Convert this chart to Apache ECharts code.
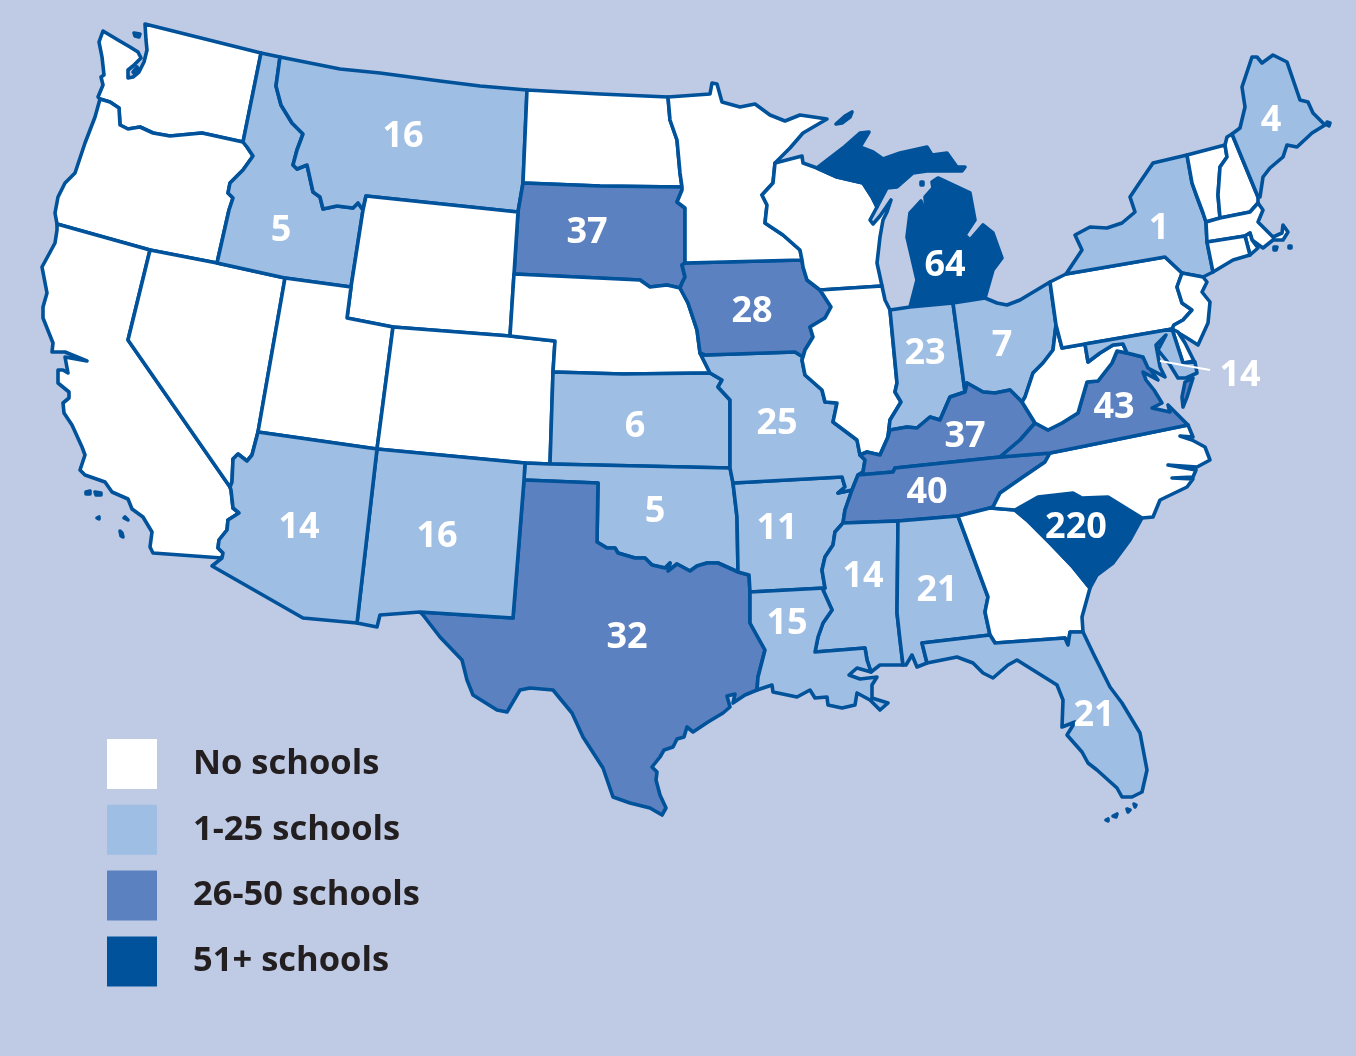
<!DOCTYPE html>
<html>
<head>
<meta charset="utf-8">
<title>Schools by state</title>
<script src="https://cdn.jsdelivr.net/npm/echarts@6/dist/echarts.min.js"></script>
<style>
  html, body { margin: 0; padding: 0; background: #bfcae4; }
  #main { width: 1356px; height: 1056px; }
</style>
</head>
<body>
<div id="main"></div>
<script>
// values
var stateNames = ['Montana', 'Idaho', 'South Dakota', 'Iowa', 'Michigan', 'Maine', 'New York', 'Indiana',
  'Ohio', 'Kansas', 'Missouri', 'Kentucky', 'Virginia', 'Tennessee', 'Arkansas', 'Oklahoma', 'New Mexico',
  'Arizona', 'Texas', 'Louisiana', 'Mississippi', 'Alabama', 'South Carolina', 'Florida', 'Maryland'];
var schoolCounts = [16, 5, 37, 28, 64, 4, 1, 23, 7, 6, 25, 37, 43, 40, 11, 5, 16, 14, 32, 15, 14, 21, 220, 21, 14];
var emptyStates = ['Washington', 'Oregon', 'California', 'Nevada', 'Utah', 'Wyoming', 'Colorado', 'North Dakota',
  'Nebraska', 'Minnesota', 'Wisconsin', 'Illinois', 'Georgia', 'North Carolina', 'West Virginia', 'Pennsylvania',
  'New Jersey', 'Delaware', 'Vermont', 'New Hampshire', 'Massachusetts', 'Rhode Island', 'Connecticut'];
var legendLabels = ['No schools', '1-25 schools', '26-50 schools', '51+ schools'];
var legendColors = ['#ffffff', '#9fbee4', '#5b81c0', '#00529b'];

// base map, traced in page pixels. Shared borders so neighbours line up
var borders = {
  wa_id: '261,53 243,142',
  wa_or: '243,142 202,133 170,136 153,133 140,127 128,129 120,125 119,108 110,102 100,99',
  or_id: '243,142 247,147 253,156 243,170 230,183 228,193 233,198 229,210 217,263',
  or_nv: '217,263 150,250',
  or_ca: '150,250 57,224',
  ca_az: '222,558 223,553 218,548 219,540 227,530 228,520 239,513 233,508 231,490 230,487',
  ca_nv: '230,487 128,340 150,250',
  nv_id: '217,263 285,278',
  nv_ut: '285,278 258,432',
  nv_az: '258,432 252,455 247,461 238,454 233,459 232,482 230,487',
  id_mt: '280,57 276,86 281,105 292,123 303,134 297,150 293,165 297,169 307,165 313,192 320,197 323,209 337,206 353,208 358,203 363,210',
  id_wy: '363,210 351,287',
  id_ut: '351,287 285,278',
  mt_nd: '527,90 523,183',
  mt_sd: '523,183 518,212',
  mt_wy: '518,212 366,196 363,210',
  nd_mn: '668,97 670,120 677,140 680,173 682,187',
  nd_sd: '682,187 600,186 523,183',
  sd_mn: '682,187 682,190 677,202 685,208 685,263',
  sd_ia: '685,263 682,265 685,277 682,283 680,288',
  sd_ne: '680,288 667,285 650,287 640,280 514,274',
  sd_wy: '514,274 518,212',
  wy_ne: '514,274 510,336',
  wy_co: '510,336 393,327',
  wy_ut: '393,327 347,318 351,287',
  ut_az: '258,432 377,449',
  ut_co: '377,449 393,327',
  co_ne: '510,336 555,341 553,372',
  co_ks: '553,372 550,464',
  co_ok: '550,464 525,463',
  co_nm: '525,463 377,449',
  ne_ia: '680,288 688,303 697,330 700,353',
  ne_mo: '700,353 710,373',
  ne_ks: '710,373 623,374 553,372',
  ks_mo: '710,373 722,380 718,387 730,400 730,468',
  ks_ok: '730,468 550,464',
  ok_nm: '525,463 524,480',
  ok_tx: '524,480 598,483 597,542 607,548 615,548 618,553 635,558 645,558 652,565 665,568 670,563 668,571 677,564 690,571 697,566 707,563 718,563 738,572',
  ok_ar: '738,572 737,517 733,483',
  ok_mo: '733,483 730,468',
  tx_ar: '738,572 749,575 750,592',
  tx_la: '750,592 750,623 765,650 758,677 757,690',
  tx_coast: '757,690 745,695 733,703 735,694 727,696 730,707 723,713 708,722 693,732 687,727 684,737 677,739 673,747 664,750 660,757 652,767 657,772 656,780 660,795 666,808 662,815 650,808 630,803 613,797 603,768 583,737 572,713 553,690 530,688 520,690 507,712 497,710 473,695 467,680 462,660 440,637 423,615 420,612',
  tx_nm: '420,612 513,618 524,480',
  nm_south: '420,612 380,615 377,627 357,623',
  az_nm: '357,623 377,449',
  az_south: '357,623 303,618 212,566 222,558',
  ar_la: '750,592 825,588',
  ar_ms: '825,588 822,570 825,557 833,545 835,532 843,523',
  ar_tn: '843,523 845,510 852,490',
  ar_mo: '852,490 838,493 845,487 842,477 733,483',
  ia_mo: '700,353 705,355 795,352 803,357',
  mo_il: '803,357 802,360 805,375 822,390 825,402 837,403 833,422 857,440 860,455',
  mo_ky: '860,455 865,460 863,472 858,475',
  mo_tn: '858,475 852,490',
  mn_ia: '685,263 802,260',
  ia_wi: '802,260 803,267 807,280 820,290',
  ia_il: '820,290 831,307 825,318 810,327 813,337 805,350 803,357',
  mn_wi: '775,163 773,183 762,195 767,205 765,223 783,235 800,250 802,260',
  wi_mi: '817,168 837,177 863,183 872,197 877,207',
  wi_il: '882,286 820,290',
  il_shore: '882,286 885,300 890,310',
  il_in: '890,310 897,383 895,392 901,402 890,420 888,437',
  il_ky: '888,437 880,455 867,452 860,455',
  mi_oh: '985,298 953,303',
  mi_in: '953,303 910,307',
  in_oh: '953,303 965,392',
  in_ky: '965,392 950,397 940,420 930,417 917,428 907,427 890,430 888,437',
  oh_pa: '1050,282 1056,325',
  oh_wv: '1056,325 1053,350 1043,363 1033,373 1025,397 1022,402',
  oh_ky: '1022,402 1010,390 995,393 983,392 967,383 965,392',
  ky_wv: '1022,402 1035,423',
  ky_va: '1035,423 1020,440 1000,457',
  ky_tn: '1000,457 895,468 893,472 858,475',
  tn_va: '1000,457 1050,453',
  tn_nc: '1050,453 1045,462 1023,477 1000,493 993,507 990,508',
  tn_ga: '990,508 958,516',
  tn_al: '958,516 898,521',
  tn_ms: '898,521 843,523',
  ms_al: '898,521 897,613 900,640 903,665',
  ms_la: '871,672 867,660 865,648 815,652 818,637 823,623 832,610 823,590 825,588',
  al_ga: '958,516 978,570 988,597 985,612 990,635',
  al_fl: '990,635 922,643 927,663',
  nc_ga: '990,508 1015,510',
  ga_sc: '1015,510 1027,520 1050,543 1073,567 1090,588',
  ga_fl: '1083,632 1070,632 1068,645 1065,638 995,643 990,635',
  sc_nc: '1015,510 1038,497 1073,493 1082,498 1108,497 1142,518',
  nc_va: '1188,425 1080,447 1050,453',
  va_md: '1143,357 1127,353',
  va_wv: '1127,353 1117,351 1112,363 1098,381 1087,382 1078,413 1062,423 1048,430 1035,423',
  wv_pa: '1056,325 1062,348 1085,344',
  wv_md: '1085,344 1088,362 1100,353 1113,345 1123,344 1127,353',
  md_pa: '1085,344 1172,329',
  md_de: '1172,329 1183,363',
  ny_pa: '1066,274 1165,257 1182,273',
  ny_nj: '1182,273 1203,277',
  pa_nj: '1182,273 1177,287 1182,303 1192,310 1183,320 1174,325 1172,329',
  ny_ct: '1213,272 1207,242',
  ny_ma: '1207,242 1206,222',
  ny_vt: '1206,222 1203,213 1197,197 1192,183 1187,155',
  vt_nh: '1225,145 1227,157 1220,167 1218,195 1220,218',
  vt_ma: '1220,218 1206,222',
  me_nh: '1232,134 1258,197',
  ma_nh: '1220,218 1250,212 1258,203',
  ma_ri: '1252,240 1250,233 1245,236',
  ma_ct: '1245,236 1207,242'
};

// each state: list of rings, a token is a point, a border name, or -name for reversed
var outlines = {
  Washington: ['145,24 261,53 wa_id wa_or 98,97 103,85 101,77 104,75 102,57 99,42 103,31 118,40 130,47 138,52 141,58 133,66 128,70 128,78 133,77 139,72 144,62 147,50 146,40',
    '134,33 140,34 139,37 135,36', '133,72 137,67 139,70 135,74'],
  Oregon: ['or_id or_nv or_ca 55,213 58,197 65,183 75,173 85,143 95,117 -wa_or'],
  California: ['57,224 57,230 55,243 42,267 47,293 43,307 43,318 53,343 52,352 65,352 87,361 65,357 68,373 63,370 58,370 58,383 69,392 69,398 63,403 64,413 72,425 82,447 85,455 80,470 85,475 105,482 112,492 128,499 132,509 143,517 152,532 150,547 153,553 ca_az ca_nv or_ca',
    '86,492 90,491 90,494 86,494', '95,492 101,493 101,495 96,495', '97,518 99,517 99,519', '125,517 128,520 127,521 124,518', '120,531 122,533 123,537 121,536'],
  Nevada: ['-or_nv nv_id nv_ut nv_az ca_nv'],
  Idaho: ['261,53 id_mt id_wy id_ut -nv_id -or_id -wa_id'],
  Montana: ['280,57 340,69 380,73 440,81 480,86 mt_nd mt_sd mt_wy -id_mt'],
  'North Dakota': ['527,90 600,94 nd_mn nd_sd -mt_nd'],
  'South Dakota': ['-nd_sd sd_mn sd_ia sd_ne sd_wy -mt_sd'],
  Wyoming: ['-mt_wy -sd_wy wy_ne wy_co wy_ut -id_wy'],
  Utah: ['nv_ut ut_az ut_co wy_ut id_ut'],
  Colorado: ['-wy_co co_ne co_ks co_ok co_nm ut_co'],
  Nebraska: ['-sd_ne ne_ia ne_mo ne_ks -co_ne -wy_ne'],
  Kansas: ['-ne_ks ks_mo ks_ok -co_ks'],
  Oklahoma: ['ks_ok co_ok ok_nm ok_tx ok_ar ok_mo'],
  Texas: ['ok_tx tx_ar tx_la tx_coast tx_nm'],
  'New Mexico': ['-co_nm ok_nm -tx_nm nm_south az_nm'],
  Arizona: ['ut_az -az_nm az_south ca_az -nv_az'],
  Arkansas: ['-ok_ar tx_ar ar_la ar_ms ar_tn ar_mo'],
  Missouri: ['ia_mo mo_il mo_ky mo_tn ar_mo ok_mo -ks_mo -ne_mo'],
  Iowa: ['mn_ia ia_wi ia_il -ia_mo -ne_ia -sd_ia'],
  Minnesota: ['668,97 710,94 712,83 717,84 722,102 740,107 755,104 770,115 785,121 800,115 827,119 803,133 790,148 mn_wi -mn_ia -sd_mn -nd_mn'],
  Wisconsin: ['775,163 802,156 803,163 wi_mi 870,220 873,224 880,216 889,203 891,200 887,212 883,220 880,237 877,263 wi_il -ia_wi -mn_wi'],
  Michigan: ['817,168 843,148 860,133 869,132 860,147 873,152 883,159 900,153 927,147 932,155 947,153 957,167 965,167 962,171 927,171 913,173 897,187 887,188 -wi_mi',
    '938,178 970,193 975,220 965,235 970,240 983,225 993,233 1002,258 993,270 mi_oh mi_in 917,280 907,237 910,213 921,201 923,208 926,209 925,197 933,188 932,182',
    '836,124 845,116 852,112 850,117 842,123', '921,182 923,182 923,185 921,185'],
  Illinois: ['-wi_il il_shore il_in il_ky -mo_il -ia_il'],
  Indiana: ['-il_in -mi_in in_oh in_ky'],
  Ohio: ['-mi_oh 997,303 1007,305 1020,300 oh_pa oh_wv oh_ky -in_oh'],
  Kentucky: ['-in_ky -oh_ky ky_wv ky_va ky_tn -mo_ky -il_ky'],
  Tennessee: ['-ky_tn tn_va tn_nc tn_ga tn_al tn_ms ar_tn -mo_tn'],
  Mississippi: ['-tn_ms ms_al 880,665 ms_la ar_ms'],
  Louisiana: ['ar_la -ms_la 857,668 849,675 860,679 877,677 872,685 872,698 888,703 880,710 870,700 857,693 855,705 842,708 828,705 827,697 815,698 810,690 797,697 773,692 772,685 -tx_la'],
  Alabama: ['-tn_al al_ga al_fl 917,667 912,655 906,665 -ms_al'],
  Georgia: ['-tn_ga nc_ga ga_sc 1082,617 ga_fl -al_ga'],
  Florida: ['-ga_fl 1093,653 1110,687 1122,703 1140,733 1147,770 1142,792 1132,797 1122,797 1117,788 1097,770 1088,763 1082,752 1067,735 1075,722 1062,727 1063,700 1057,685 1033,670 1017,660 1008,665 993,678 983,673 973,663 957,657 -al_fl',
    '1106,820 1108,819 1108,821', '1113,816 1117,814 1116,817', '1127,809 1130,810 1128,812', '1134,804 1136,805 1135,807'],
  'South Carolina': ['sc_nc 1130,540 1113,563 1097,575 -ga_sc'],
  'North Carolina': ['tn_nc nc_ga sc_nc 1153,517 1160,500 1187,487 1193,479 1172,478 1172,477 1193,477 1196,470 1168,465 1168,464 1197,467 1210,460 1205,447 1192,440 1180,436 1180,435 1193,437 nc_va'],
  Virginia: ['tn_va -nc_va 1176,413 1168,405 1170,412 1152,408 1162,403 1154,390 1146,380 1143,372 1158,380 1147,365 va_md va_wv ky_va',
    '1185,382 1193,378 1187,397 1183,407 1182,397'],
  'West Virginia': ['wv_pa wv_md va_wv -ky_wv -oh_wv'],
  Pennsylvania: ['1050,282 ny_pa pa_nj -md_pa -wv_pa -oh_pa'],
  'New York': ['ny_pa ny_nj ny_ct ny_ma ny_vt 1153,163 1138,185 1130,197 1135,212 1122,223 1107,228 1090,227 1075,235 1082,250'],
  'New Jersey': ['-ny_nj pa_nj 1187,338 1198,345 1208,323 1210,302 1202,292 1207,282'],
  Delaware: ['md_de 1194,361 1185,343 1178,332'],
  Maryland: ['md_pa md_de 1195,362 1197,373 1186,378 1178,378 1170,365 1158,350 1166,335 1156,345 1160,367 1165,377 1148,368 va_md -wv_md'],
  Vermont: ['1187,155 vt_nh vt_ma ny_vt'],
  'New Hampshire': ['-vt_nh 1227,137 me_nh -ma_nh'],
  Maine: ['-me_nh 1240,128 1245,107 1242,87 1252,57 1257,57 1262,63 1273,55 1287,62 1300,100 1308,102 1313,113 1325,125 1312,133 1297,147 1287,145 1283,157 1270,168 1263,177 1260,197',
    '1327,122 1330,123 1329,126 1327,125'],
  Massachusetts: ['ma_nh 1263,210 1258,222 1273,237 1282,233 1283,225 1288,232 1283,240 1273,240 1263,248 ma_ri ma_ct ny_ma -vt_ma',
    '1289,246 1291,246 1291,248 1289,248', '1274,247 1277,247 1276,250 1274,250'],
  'Rhode Island': ['ma_ri 1250,255 1258,248'],
  Connecticut: ['-ma_ct 1250,255 1233,260 ny_ct']
};

// where each number sits
var labelSpots = {
  Montana: [403, 137], Idaho: [281, 231], 'South Dakota': [587, 233], Iowa: [752, 312], Michigan: [945, 266],
  Maine: [1271, 121], 'New York': [1159, 229], Indiana: [925, 354], Ohio: [1002, 346], Kansas: [635, 427],
  Missouri: [777, 424], Kentucky: [965, 437], Virginia: [1114, 408], Tennessee: [927, 493], Arkansas: [777, 529],
  Oklahoma: [655, 512], 'New Mexico': [437, 537], Arizona: [299, 528], Texas: [627, 638], Louisiana: [787, 624],
  Mississippi: [863, 577], Alabama: [937, 591], 'South Carolina': [1076, 528], Florida: [1094, 716], Maryland: [1240, 376]
};

function pts(s) {
  return s.split(' ').map(function (p) {
    var c = p.split(',');
    return [+c[0], -c[1]];
  });
}

function ring(def) {
  var out = [];
  def.split(' ').forEach(function (tok) {
    if (tok.indexOf(',') > -1) {
      out = out.concat(pts(tok));
    } else if (tok.charAt(0) === '-') {
      out = out.concat(pts(borders[tok.slice(1)]).reverse());
    } else {
      out = out.concat(pts(borders[tok]));
    }
  });
  out.push(out[0]);
  return out;
}

var features = Object.keys(outlines).map(function (name) {
  var spot = labelSpots[name];
  var props = { name: name };
  if (spot) props.cp = [spot[0], -spot[1]];
  return {
    type: 'Feature',
    properties: props,
    geometry: {
      type: 'MultiPolygon',
      coordinates: outlines[name].map(function (d) { return [ring(d)]; })
    }
  };
});
echarts.registerMap('usa', { type: 'FeatureCollection', features: features });

var seriesData = stateNames.map(function (n, i) {
  return { name: n, value: schoolCounts[i] };
}).concat(emptyStates.map(function (n) {
  return { name: n, value: 0 };
}));

var myChart = echarts.init(document.getElementById('main'));

var option = {
  backgroundColor: '#bfcae4',
  animation: false,
  visualMap: {
    type: 'piecewise',
    orient: 'vertical',
    inverse: true,
    left: 107,
    top: 739,
    padding: 0,
    itemWidth: 50,
    itemHeight: 50,
    itemGap: 15.8,
    itemSymbol: 'rect',
    textGap: 36,
    selectedMode: false,
    seriesIndex: 0,
    textStyle: {
      color: '#231f20',
      fontFamily: 'Open Sans',
      fontWeight: 700,
      fontSize: 34.5
    },
    pieces: [
      { min: 0, max: 0, label: legendLabels[0], color: legendColors[0] },
      { min: 1, max: 25, label: legendLabels[1], color: legendColors[1] },
      { min: 26, max: 50, label: legendLabels[2], color: legendColors[2] },
      { min: 51, label: legendLabels[3], color: legendColors[3] }
    ]
  },
  series: [{
    type: 'map',
    map: 'usa',
    silent: true,
    roam: false,
    aspectScale: 1,
    left: 0,
    top: 0,
    width: 1356,
    height: 1056,
    boundingCoords: [[0, 0], [1356, -1056]],
    itemStyle: {
      borderColor: '#00529b',
      borderWidth: 3.6,
      borderJoin: 'round'
    },
    label: {
      show: true,
      color: '#ffffff',
      fontFamily: 'Open Sans',
      fontWeight: 700,
      fontSize: 36,
      formatter: function (p) { return p.value > 0 ? p.value : ''; }
    },
    data: seriesData
  }],
  // leader line from Maryland out to its number, kept above the map
  graphic: [{
    type: 'line',
    silent: true,
    z: 100,
    zlevel: 1,
    shape: { x1: 1160, y1: 361, x2: 1210, y2: 370 },
    style: { stroke: '#ffffff', lineWidth: 2 }
  }]
};

myChart.setOption(option);
</script>
</body>
</html>
